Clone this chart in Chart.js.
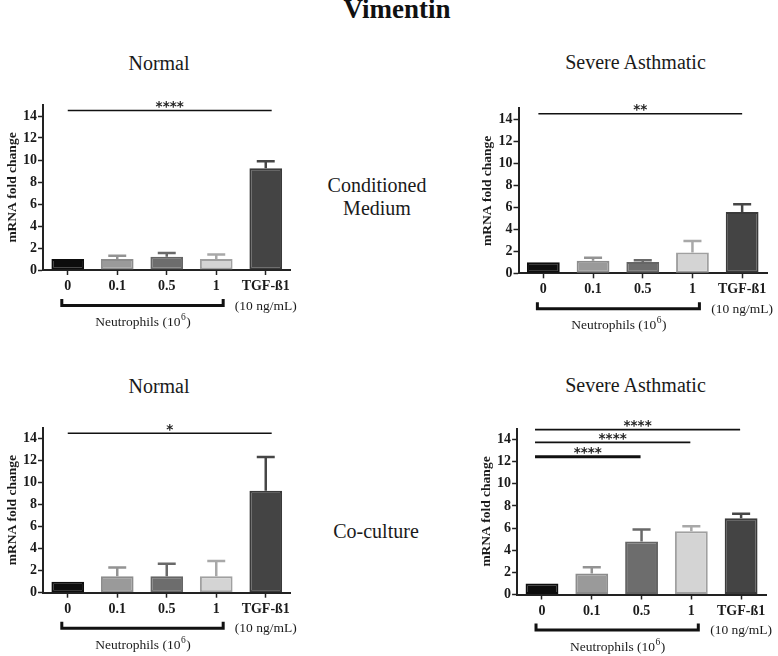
<!DOCTYPE html>
<html>
<head>
<meta charset="utf-8">
<script src="https://cdn.jsdelivr.net/npm/chart.js@4.4.1/dist/chart.umd.min.js"></script>
<style>
html,body{margin:0;padding:0;background:#fff;}
body{width:778px;height:656px;position:relative;overflow:hidden;font-family:'Liberation Serif','Times New Roman',serif;color:#1a1a1a;}
.t{position:absolute;white-space:nowrap;line-height:1;transform:translateX(-50%);}
canvas{position:absolute;}
</style>
</head>
<body>
<div class="t" style="left:397px;top:-4.5px;font-size:27px;font-weight:bold;color:#111">Vimentin</div>
<div class="t" style="left:159px;top:53.3px;font-size:20px">Normal</div>
<div class="t" style="left:635.5px;top:52.3px;font-size:20px">Severe Asthmatic</div>
<div class="t" style="left:377px;top:175px;font-size:20px">Conditioned</div>
<div class="t" style="left:377px;top:198.3px;font-size:20px">Medium</div>
<div class="t" style="left:159px;top:376.3px;font-size:20px">Normal</div>
<div class="t" style="left:635.5px;top:375.3px;font-size:20px">Severe Asthmatic</div>
<div class="t" style="left:376px;top:521.3px;font-size:20px">Co-culture</div>
<script>
// ---- data ----
const categories = ['0', '0.1', '0.5', '1', 'TGF-ß1'];
const yTicks = [0, 2, 4, 6, 8, 10, 12, 14];

const normalCMMean = [1.0, 1.0, 1.2, 1.0, 9.24];
const normalCMErr  = [null, 1.3, 1.55, 1.4, 9.88];
const severeCMMean = [1.0, 1.15, 1.03, 1.88, 5.58];
const severeCMErr  = [null, 1.42, 1.18, 2.94, 6.27];
const normalCCMean = [1.0, 1.5, 1.5, 1.5, 9.27];
const normalCCErr  = [null, 2.3, 2.64, 2.88, 12.33];
const severeCCMean = [1.0, 1.9, 4.79, 5.72, 6.9];
const severeCCErr  = [null, 2.47, 5.87, 6.17, 7.3];

const sigNormalCM = [{from: 0, to: 4.12, level: 14.5, label: '****', thick: false}];
const sigSevereCM = [{from: -0.1, to: 4.0, level: 14.5, label: '**', thick: false}];
const sigNormalCC = [{from: 0, to: 4.12, level: 14.5, label: '*', thick: false}];
const sigSevereCC = [
  {from: -0.14, to: 3.98, level: 14.9, label: '****', thick: false},
  {from: -0.14, to: 2.98, level: 13.75, label: '****', thick: false},
  {from: -0.14, to: 1.98, level: 12.44, label: '****', thick: true}
];

const yTitle = 'mRNA fold change';
const groupLabel = ['Neutrophils (10', '6', ')'];
const doseLabel = '(10 ng/mL)';

// ---- styles ----
const barFill   = ['#0d0d0d', '#9a9a9a', '#6d6d6d', '#d4d4d4', '#444444'];
const barBorder = ['#0d0d0d', '#8c8c8c', '#656565', '#a0a0a0', '#3a3a3a'];
const errColor  = ['#0d0d0d', '#939393', '#696969', '#a8a8a8', '#464646'];
const serif = "'Liberation Serif','Times New Roman',serif";

Chart.defaults.font.family = serif;
Chart.defaults.color = '#1a1a1a';
Chart.defaults.animation = false;

const panels = [
  {mean: normalCMMean, err: normalCMErr, sig: sigNormalCM,
   box: {left: 0, top: 90, width: 310, height: 240}, pad: {left: 0, right: 19.5, top: 15, bottom: 5}, yW: 43},
  {mean: severeCMMean, err: severeCMErr, sig: sigSevereCM,
   box: {left: 475, top: 93, width: 303, height: 240}, pad: {left: 0, right: 11, top: 15.3, bottom: 4.7}, yW: 43.5},
  {mean: normalCCMean, err: normalCCErr, sig: sigNormalCC,
   box: {left: 0, top: 413, width: 310, height: 243}, pad: {left: 0, right: 19.5, top: 14.7, bottom: 8.3}, yW: 43},
  {mean: severeCCMean, err: severeCCErr, sig: sigSevereCC,
   box: {left: 474, top: 413, width: 304, height: 243}, pad: {left: 0, right: 12, top: 15.5, bottom: 6.5}, yW: 43.1}
];

function idxPx(xs, idx) {
  const p0 = xs.getPixelForValue(0), p1 = xs.getPixelForValue(1);
  return p0 + idx * (p1 - p0);
}

function makeChart(p) {
  const cv = document.createElement('canvas');
  cv.width = p.box.width; cv.height = p.box.height;
  cv.style.left = p.box.left + 'px'; cv.style.top = p.box.top + 'px';
  cv.style.width = p.box.width + 'px'; cv.style.height = p.box.height + 'px';
  document.body.appendChild(cv);

  const errPlugin = {
    id: 'errbars',
    afterDatasetsDraw(chart) {
      const ctx = chart.ctx, ys = chart.scales.y, meta = chart.getDatasetMeta(0);
      p.err.forEach((t, i) => {
        if (t == null) return;
        const bar = meta.data[i];
        const x = bar.x, y0 = ys.getPixelForValue(p.mean[i]), y1 = ys.getPixelForValue(t);
        const w = bar.width * 0.55;
        ctx.save();
        ctx.strokeStyle = errColor[i]; ctx.lineWidth = 2.5; ctx.lineCap = 'butt';
        ctx.beginPath();
        ctx.moveTo(x, y0); ctx.lineTo(x, y1);
        ctx.moveTo(x - w / 2, y1); ctx.lineTo(x + w / 2, y1);
        ctx.stroke();
        ctx.restore();
      });
    }
  };

  const annPlugin = {
    id: 'annot',
    afterDraw(chart) {
      const ctx = chart.ctx, xs = chart.scales.x, ys = chart.scales.y;
      const B = chart.chartArea.bottom;
      ctx.save();
      // significance lines
      p.sig.forEach(s => {
        const x0 = idxPx(xs, s.from), x1 = idxPx(xs, s.to), y = ys.getPixelForValue(s.level);
        ctx.strokeStyle = '#111'; ctx.lineWidth = s.thick ? 3 : 1.6;
        ctx.beginPath(); ctx.moveTo(x0, y); ctx.lineTo(x1, y); ctx.stroke();
        ctx.fillStyle = '#222';
        ctx.font = "bold 13.5px 'DejaVu Sans', sans-serif";
        ctx.textAlign = 'center'; ctx.textBaseline = 'alphabetic';
        ctx.fillText(s.label, (x0 + x1) / 2, y + 0.5);
      });
      // bracket
      const bx0 = idxPx(xs, -0.12), bx1 = idxPx(xs, 3.14);
      ctx.strokeStyle = '#111'; ctx.lineWidth = 3; ctx.lineJoin = 'miter';
      ctx.beginPath();
      ctx.moveTo(bx0, B + 29); ctx.lineTo(bx0, B + 35.5); ctx.lineTo(bx1, B + 35.5); ctx.lineTo(bx1, B + 29);
      ctx.stroke();
      // group label with superscript
      ctx.fillStyle = '#1a1a1a';
      ctx.textBaseline = 'middle'; ctx.textAlign = 'left';
      const mainF = '13.5px ' + serif, supF = '9.5px ' + serif;
      ctx.font = mainF;
      const wa = ctx.measureText(groupLabel[0]).width, wc = ctx.measureText(groupLabel[2]).width;
      ctx.font = supF;
      const wb = ctx.measureText(groupLabel[1]).width;
      let x = (bx0 + bx1) / 2 - (wa + wb + wc) / 2;
      const cy = B + 52.5;
      ctx.font = mainF; ctx.fillText(groupLabel[0], x, cy); x += wa;
      ctx.font = supF; ctx.fillText(groupLabel[1], x + 0.5, cy - 5); x += wb + 1;
      ctx.font = mainF; ctx.fillText(groupLabel[2], x, cy);
      // dose label
      ctx.textAlign = 'center';
      ctx.fillText(doseLabel, xs.getPixelForValue(4), B + 36);
      ctx.restore();
    }
  };

  return new Chart(cv, {
    type: 'bar',
    data: {
      labels: categories,
      datasets: [{
        data: p.mean,
        backgroundColor: barFill,
        borderColor: barBorder,
        borderWidth: 2,
        borderSkipped: false,
        barPercentage: 0.66,
        categoryPercentage: 1
      }]
    },
    options: {
      responsive: false,
      animation: false,
      events: [],
      layout: {padding: p.pad},
      plugins: {legend: {display: false}, tooltip: {enabled: false}},
      scales: {
        x: {
          type: 'category',
          offset: true,
          grid: {display: true, offset: false, drawOnChartArea: false, drawTicks: true,
                 tickLength: 5, tickWidth: 1.5, tickColor: '#222'},
          border: {display: true, color: '#222', width: 2},
          ticks: {font: {size: 14, weight: 'bold', family: serif}, color: '#1a1a1a', padding: 3, maxRotation: 0, autoSkip: false},
          afterFit(s) { s.height = 55; }
        },
        y: {
          min: 0, max: 15,
          afterBuildTicks(s) { s.ticks = yTicks.map(v => ({value: v})); },
          grid: {display: true, drawOnChartArea: false, drawTicks: true,
                 tickLength: 5, tickWidth: 1.5, tickColor: '#222'},
          border: {display: true, color: '#222', width: 2},
          ticks: {font: {size: 14, weight: 'bold', family: serif}, color: '#1a1a1a', padding: 1},
          title: {display: true, text: yTitle, font: {size: 13.5, weight: 'bold', family: serif},
                  color: '#1a1a1a', padding: {top: 4, bottom: 0}},
          afterFit(s) { s.width = p.yW; }
        }
      }
    },
    plugins: [errPlugin, annPlugin]
  });
}

panels.forEach(makeChart);
</script>
</body>
</html>
